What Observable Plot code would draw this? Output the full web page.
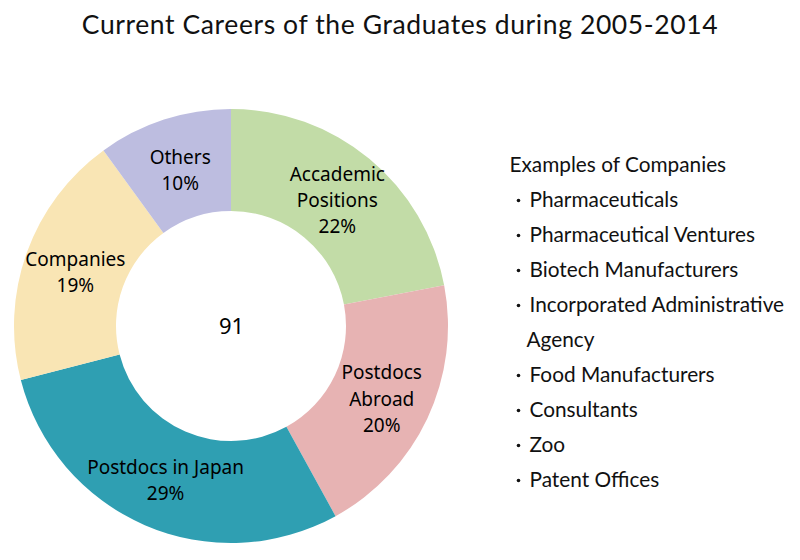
<!DOCTYPE html>
<html><head><meta charset="utf-8">
<script src="https://cdn.jsdelivr.net/npm/d3@7"></script>
<script src="https://cdn.jsdelivr.net/npm/@observablehq/plot@0.6"></script>
<style>
body{margin:0;background:#fff;}
#title{height:46px;width:800px;text-align:center;font-family:Lato,sans-serif;font-size:26.5px;line-height:48px;color:#111;letter-spacing:0.6px;}
</style></head><body>
<div id="title">Current Careers of the Graduates during 2005-2014</div>
<div id="chart"></div>
<script>
// ---- data ----
const categories = ["Accademic Positions", "Postdocs Abroad", "Postdocs in Japan", "Companies", "Others"];
const labelText = ["Accademic\nPositions", "Postdocs\nAbroad", "Postdocs in Japan", "Companies", "Others"];
const percents = [22, 20, 29, 19, 10];
const colors = ["#c2dca7", "#e7b3b3", "#2f9fb2", "#f9e5b4", "#bdbde0"];
const totalGraduates = 91;
const examplesTitle = "Examples of Companies";
const examples = ["Pharmaceuticals", "Pharmaceutical Ventures", "Biotech Manufacturers",
  "Incorporated Administrative", "Agency", "Food Manufacturers", "Consultants", "Zoo", "Patent Offices"];
const bulleted = [true, true, true, true, false, true, true, true, true];

// ---- layout ----
const W = 800, H = 514;
const CX = 231, CY = 280, R_OUT = 217, R_IN = 115;
const LIST_X = 509, BULLET_X = 518, ITEM_X = 529, CONT_X = 526, LIST_TOP = 119, ROW = 35;

const data = categories.map((c, i) => ({cat: c, label: labelText[i], pct: percents[i]}));
const color = Plot.scale({color: {domain: categories, range: colors}});
const pie = d3.pie().sort(null).value(d => d.pct)(data);
const arcGen = d3.arc().innerRadius(R_IN).outerRadius(R_OUT);
const labels = pie.map(a => {
  const [dx, dy] = arcGen.centroid(a);
  return {x: CX + dx, y: CY + dy, text: a.data.label + "\n" + a.data.pct + "%"};
});
const listRows = [{x: LIST_X, y: LIST_TOP, text: examplesTitle, bullet: false}]
  .concat(examples.map((t, i) => ({x: bulleted[i] ? ITEM_X : CONT_X, y: LIST_TOP + ROW * (i + 1), text: t, bullet: bulleted[i]})));

function donutMark(index, scales) {
  const cx = scales.x(CX), cy = scales.y(CY);
  const k = scales.x(1) - scales.x(0);
  const arc = d3.arc().innerRadius(R_IN * k).outerRadius(R_OUT * k);
  const g = d3.create("svg:g").attr("transform", `translate(${cx},${cy})`);
  g.selectAll("path").data(pie).join("path")
    .attr("d", arc)
    .attr("fill", d => color.apply(d.data.cat));
  return g.node();
}

const chart = Plot.plot({
  width: W, height: H,
  margin: 0,
  x: {domain: [0, W], range: [0, W], axis: null},
  y: {domain: [0, H], range: [0, H], axis: null},
  style: {fontFamily: "'Noto Sans', sans-serif", background: "#fff"},
  marks: [
    donutMark,
    Plot.text(labels, {x: "x", y: "y", text: "text", fontSize: 19, lineHeight: 1.38, fill: "#000"}),
    Plot.text([String(totalGraduates)], {x: () => CX, y: () => CY, text: d => d, fontSize: 22, fill: "#000"}),
    Plot.dot(listRows.filter(d => d.bullet), {x: () => BULLET_X, y: "y", r: 1.8, fill: "#111", stroke: null}),
    Plot.text(listRows, {x: "x", y: "y", text: "text", textAnchor: "start", fontSize: 20.8, fill: "#111", fontFamily: "Lato, sans-serif"})
  ]
});
document.getElementById("chart").appendChild(chart);
</script>
</body></html>
